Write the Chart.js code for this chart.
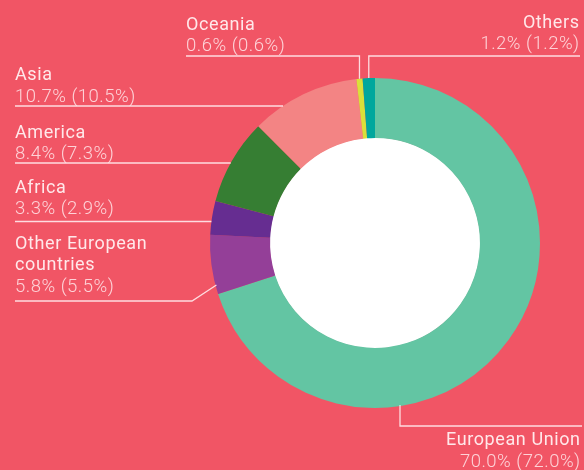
<!DOCTYPE html>
<html>
<head>
<meta charset="utf-8">
<script src="https://cdn.jsdelivr.net/npm/chart.js@4"></script>
<style>
  html, body { margin: 0; padding: 0; background: #F15565; }
  #wrap { width: 584px; height: 470px; }
</style>
</head>
<body>
<div id="wrap"><canvas id="myDonut" width="584" height="470"></canvas></div>
<script>
// data, clockwise from 12 o'clock
var regions = ['European Union', 'Other European countries', 'Africa', 'America', 'Asia', 'Oceania', 'Others'];
var shares = [70.0, 5.8, 3.3, 8.4, 10.7, 0.6, 1.2];
var sharesPrev = [72.0, 5.5, 2.9, 7.3, 10.5, 0.6, 1.2];
var sliceColors = ['#63C5A3', '#943F98', '#662D91', '#367E33', '#F38484', '#D9E03A', '#00A79D'];

function pct(v) { return v.toFixed(1) + '%'; }

// label layout: name lines, text x, alignment, underline y, line start/end
var labelSpots = [
  {name: ['European Union'], x: 580, align: 'right', base: 445, line: 426, from: 582, to: 400, kind: 'up'},
  {name: ['Other European', 'countries'], x: 15, align: 'left', base: 248.5, line: 301, from: 15, to: 192, kind: 'diag', hitY: 285},
  {name: ['Africa'], x: 15, align: 'left', base: 192.5, line: 221.5, from: 15, kind: 'flat'},
  {name: ['America'], x: 15, align: 'left', base: 137.5, line: 163, from: 15, kind: 'flat'},
  {name: ['Asia'], x: 15, align: 'left', base: 80, line: 106, from: 15, kind: 'flat'},
  {name: ['Oceania'], x: 186, align: 'left', base: 29.5, line: 56, from: 186, kind: 'down'},
  {name: ['Others'], x: 579, align: 'right', base: 27.5, line: 56, from: 580, kind: 'down'}
];

var calloutPlugin = {
  id: 'callouts',
  beforeDatasetsDraw: function(chart) {
    var arc = chart.getDatasetMeta(0).data[0];
    var c = chart.ctx;
    c.save();
    c.fillStyle = '#ffffff';
    c.beginPath();
    c.arc(arc.x, arc.y, arc.innerRadius + 0.5, 0, Math.PI * 2);
    c.fill();
    c.restore();
  },
  afterDraw: function(chart) {
    var c = chart.ctx;
    var meta = chart.getDatasetMeta(0);
    c.save();
    c.strokeStyle = 'rgba(255,235,237,0.9)';
    c.lineWidth = 1.3;
    for (var i = 0; i < labelSpots.length; i++) {
      var s = labelSpots[i];
      var a = meta.data[i];
      var cx = a.x, cy = a.y, R = a.outerRadius;
      c.beginPath();
      if (s.kind == 'flat') {
        var ex = cx - Math.sqrt(R * R - (s.line - cy) * (s.line - cy));
        c.moveTo(s.from, s.line);
        c.lineTo(ex, s.line);
      } else if (s.kind == 'diag') {
        var dx = cx - Math.sqrt(R * R - (s.hitY - cy) * (s.hitY - cy));
        c.moveTo(s.from, s.line);
        c.lineTo(s.to, s.line);
        c.lineTo(dx + 1, s.hitY);
      } else if (s.kind == 'down') {
        var mid = (a.startAngle + a.endAngle) / 2;
        var px = cx + Math.cos(mid) * R;
        var py = cy + Math.sin(mid) * R;
        c.moveTo(s.from, s.line);
        c.lineTo(px, s.line);
        c.lineTo(px, py);
      } else if (s.kind == 'up') {
        var uy = cy + Math.sqrt(R * R - (s.to - cx) * (s.to - cx));
        c.moveTo(s.from, s.line);
        c.lineTo(s.to, s.line);
        c.lineTo(s.to, uy - 1);
      }
      c.stroke();

      // text (right aligned text gets nudged back for the trailing letter spacing)
      var tx = s.align == 'right' ? s.x + 0.6 : s.x;
      c.textAlign = s.align;
      c.textBaseline = 'alphabetic';
      c.letterSpacing = '0.6px';
      c.font = '400 18px Roboto';
      c.fillStyle = '#FFE8EA';
      var y = s.base;
      for (var k = 0; k < s.name.length; k++) {
        c.fillText(s.name[k], tx, y);
        y += 21.5;
      }
      c.letterSpacing = '0.5px';
      c.font = '300 18.5px Roboto';
      c.fillStyle = 'rgba(255,228,231,0.88)';
      c.fillText(pct(shares[i]) + ' (' + pct(sharesPrev[i]) + ')', tx, y);
    }
    c.restore();
  }
};

var ctx = document.getElementById('myDonut').getContext('2d');
var myDonut = new Chart(ctx, {
  type: 'doughnut',
  data: {
    labels: regions,
    datasets: [{
      data: shares,
      backgroundColor: sliceColors,
      borderWidth: 0
    }]
  },
  options: {
    responsive: false,
    animation: false,
    cutout: '63.6%',
    layout: {
      padding: {left: 210, right: 44, top: 78, bottom: 62}
    },
    plugins: {
      legend: {display: false},
      tooltip: {enabled: false},
      title: {display: false}
    }
  },
  plugins: [calloutPlugin]
});
</script>
</body>
</html>
